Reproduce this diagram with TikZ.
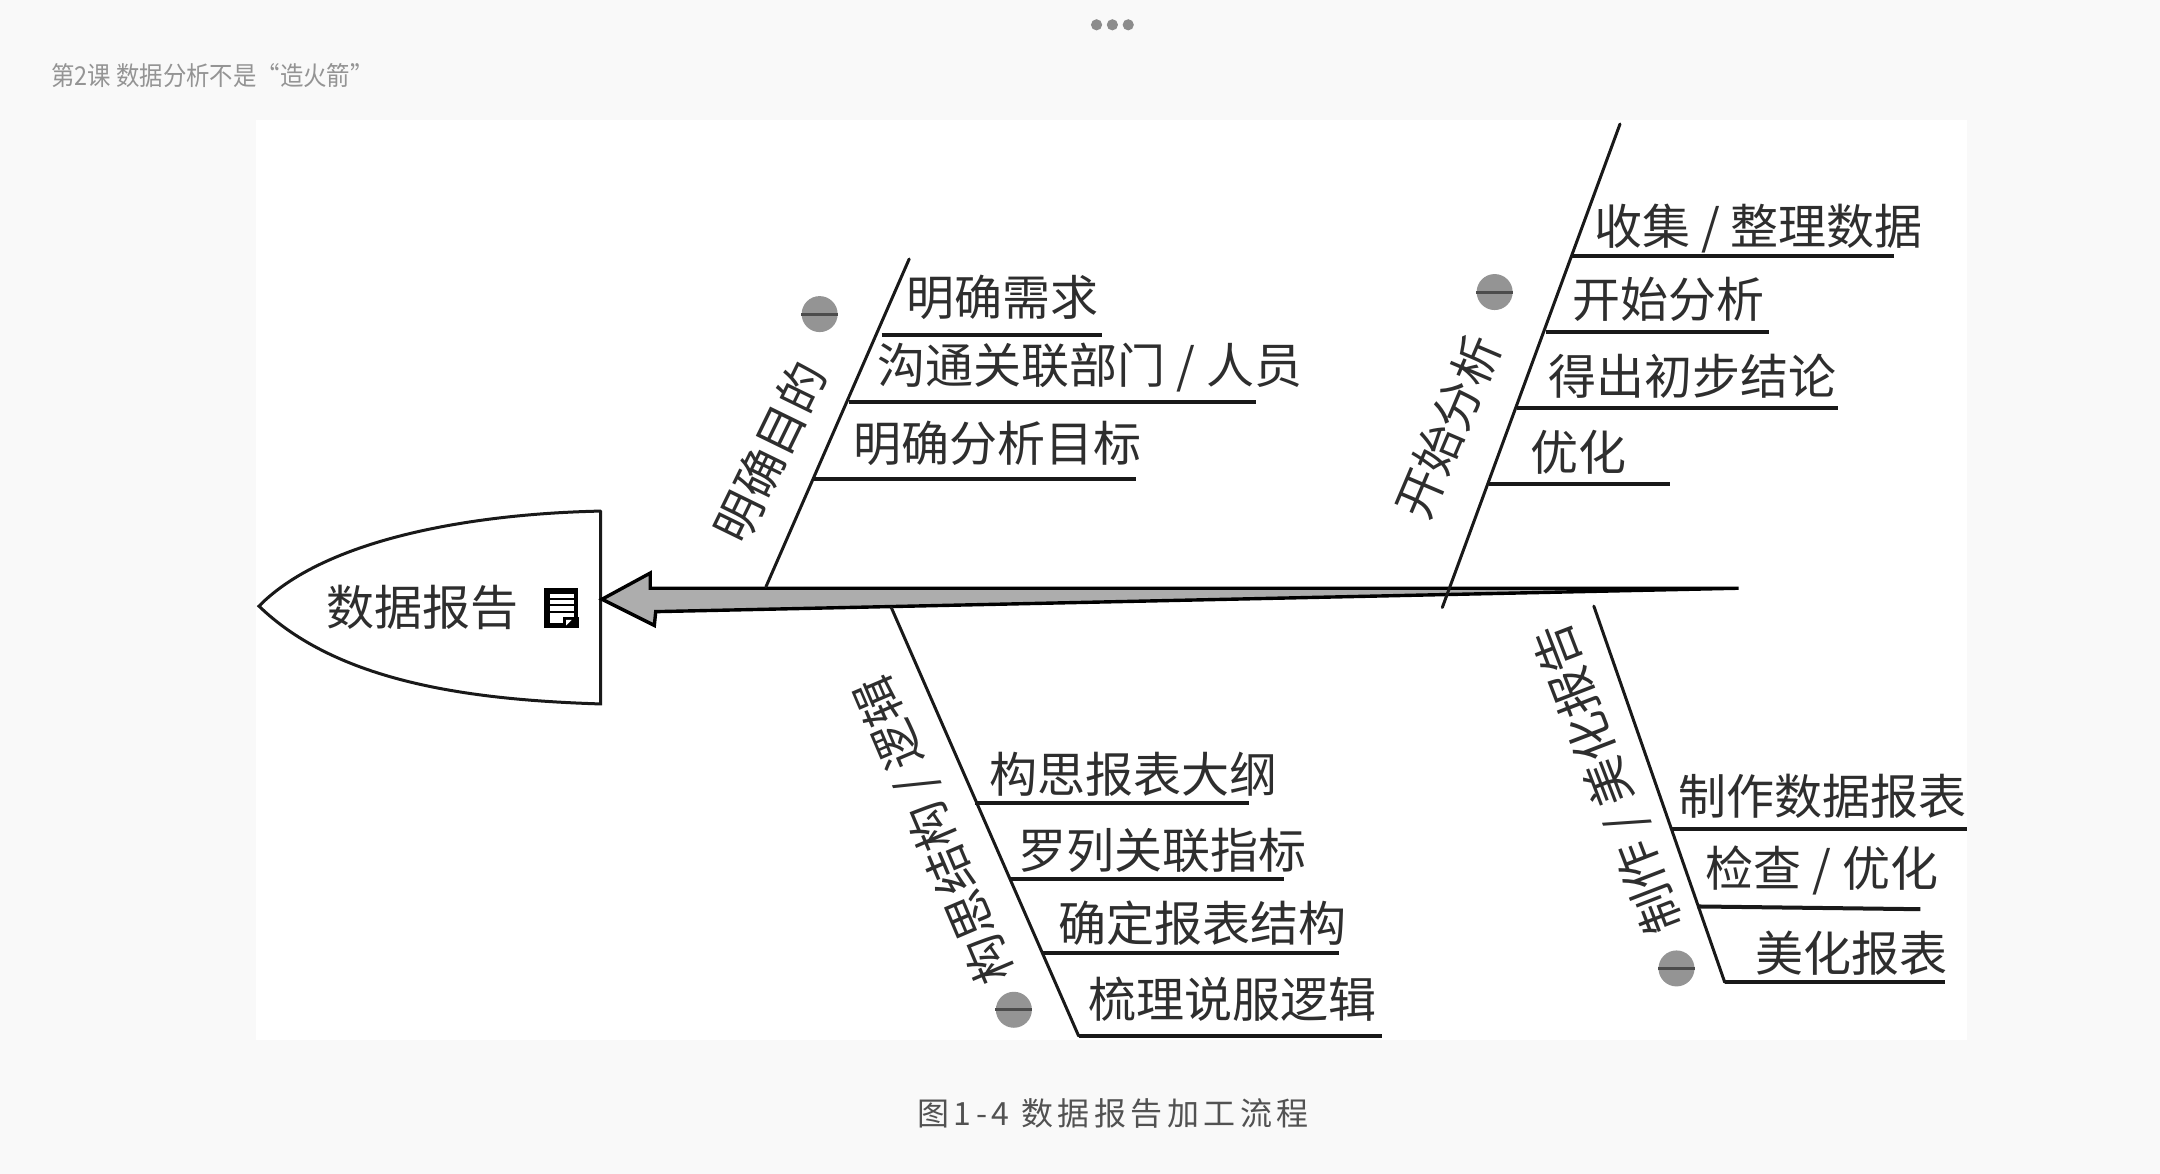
\documentclass[tikz,border=0pt]{standalone}
\usepackage{fontspec}
\setmainfont{Noto Sans CJK SC}
\newfontfamily\capfont[LetterSpace=14]{Noto Sans CJK SC}
\usetikzlibrary{positioning,calc}
\definecolor{pagegray}{HTML}{F9F9F9}
\definecolor{inkgray}{HTML}{2E2E2E}
\tikzset{%
  bone/.style     = { draw = black!90, line width = 1.5pt, line cap = round },
  rib/.style      = { draw = black!90, line width = 2pt },
  ribtext/.style  = { anchor = west, inner sep = 0pt, text = inkgray, font = \fontsize{24}{24}\selectfont },
  bonetext/.style = { inner sep = 0pt, text = inkgray, font = \fontsize{24}{24}\selectfont },
  grayball/.style = { circle, fill = black!42, minimum size = 18pt, inner sep = 0pt },
  ballbar/.style  = { draw = black!70, line width = 1.5pt }
}

\begin{document}
\begin{tikzpicture}[x=0.68878pt,y=-0.68878pt]
  \useasboundingbox (0,0) rectangle (1568,852.2);
  \fill[pagegray] (0,0) rectangle (1568,852.2);
  \fill[white] (186,87) rectangle (1428,755);
  % page header
  \foreach \px/\name in {796/p1,807.5/p2,819/p3}
    \node(\name)[circle, fill=black!45, minimum size=5.6pt, inner sep=0pt] at (\px,18) {};
  \node(head)[anchor=west, inner sep=0pt, xscale=0.9, text=black!42, font=\fontsize{13}{13}\selectfont] at (37,55) {第2课 数据分析不是“造火箭”};
  \node(cap)[inner sep=0pt, text=black!68, font=\capfont\fontsize{16}{16}\selectfont] at (808,808) {图1-4 数据报告加工流程};
  % fish head
  \coordinate(ht) at (436,371);
  \coordinate(hb) at (436,511);
  \coordinate(hl) at (188,440);
  \draw[bone] (ht) -- (hb) .. controls (340,508) and (245,495) .. (hl) .. controls (235,392) and (340,373) .. (ht);
  \node(title)[bonetext] at (307,441) {数据报告};
  \node(doc)[fill=black, minimum width=17pt, minimum height=20pt, inner sep=0pt] at (407.5,441) {};
  \fill[white] (399,431) rectangle (417,452);
  \foreach \ly in {435,439.5,444} \draw[black, line width=1pt] (399,\ly) -- (417,\ly);
  \fill[black] (409,448) rectangle (420,456);
  \fill[white] (411,450) -- (415,450) -- (411,454) -- cycle;
  % main spine
  \coordinate(st) at (437,435);
  \coordinate(sa) at (472,416);
  \coordinate(sb) at (472,427);
  \coordinate(se) at (1262,427);
  \coordinate(sc) at (476,444);
  \coordinate(sd) at (475,454);
  \draw[fill=black!32, line width=1.7pt, line join=miter] (st) -- (sa) -- (sb) -- (se) -- (sc) -- (sd) -- cycle;
  % top left bone
  \coordinate(a0) at (660,188);
  \coordinate(a5) at (556,426);
  \draw[bone] (a0) -- (a5);
  \coordinate(a1) at (640,243);
  \coordinate(a2) at (616,292);
  \coordinate(a3) at (591,348);
  \coordinate(a1e) at (800,243);
  \coordinate(a2e) at (912,292);
  \coordinate(a3e) at (825,348);
  \draw[rib] (a1) -- (a1e);
  \draw[rib] (a2) -- (a2e);
  \draw[rib] (a3) -- (a3e);
  \node(ta1)[ribtext] at (658,216) {明确需求};
  \node(ta2)[ribtext] at (637,267) {沟通关联部门 / 人员};
  \node(ta3)[ribtext] at (619,322) {明确分析目标};
  \node(ta)[bonetext, rotate=64] at (559,328) {明确目的};
  \node(ba)[grayball] at (595,228) {};
  \draw[ballbar] (ba.west) -- (ba.east);
  % top right bone
  \coordinate(b0) at (1176,90);
  \coordinate(b5) at (1047,441);
  \draw[bone] (b0) -- (b5);
  \coordinate(b1) at (1141,186);
  \coordinate(b2) at (1122,241);
  \coordinate(b3) at (1101,296);
  \coordinate(b4) at (1081,351);
  \coordinate(b1e) at (1375,186);
  \coordinate(b2e) at (1284,241);
  \coordinate(b3e) at (1334,296);
  \coordinate(b4e) at (1212,351);
  \draw[rib] (b1) -- (b1e);
  \draw[rib] (b2) -- (b2e);
  \draw[rib] (b3) -- (b3e);
  \draw[rib] (b4) -- (b4e);
  \node(tb1)[ribtext] at (1157,166) {收集 / 整理数据};
  \node(tb2)[ribtext] at (1141,217) {开始分析};
  \node(tb3)[ribtext] at (1124,273) {得出初步结论};
  \node(tb4)[ribtext] at (1111,328) {优化};
  \node(tb)[bonetext, rotate=67] at (1051,310) {开始分析};
  \node(bb)[grayball] at (1085,212) {};
  \draw[ballbar] (bb.west) -- (bb.east);
  % bottom left bone
  \coordinate(c0) at (647,441);
  \coordinate(c4) at (783,752);
  \draw[bone] (c0) -- (c4);
  \coordinate(c1) at (708,583);
  \coordinate(c2) at (733,638);
  \coordinate(c3) at (757,692);
  \coordinate(c1e) at (907,583);
  \coordinate(c2e) at (932,638);
  \coordinate(c3e) at (972,692);
  \coordinate(c4e) at (1003,752);
  \draw[rib] (c1) -- (c1e);
  \draw[rib] (c2) -- (c2e);
  \draw[rib] (c3) -- (c3e);
  \draw[rib] (c4) -- (c4e);
  \node(tc1)[ribtext] at (718,562) {构思报表大纲};
  \node(tc2)[ribtext] at (739,617) {罗列关联指标};
  \node(tc3)[ribtext] at (768,670) {确定报表结构};
  \node(tc4)[ribtext] at (790,725) {梳理说服逻辑};
  \node(tc)[bonetext, rotate=113] at (679,602) {构思结构 / 逻辑};
  \node(bc)[grayball] at (736,733) {};
  \draw[ballbar] (bc.west) -- (bc.east);
  % bottom right bone
  \coordinate(d0) at (1157,440);
  \coordinate(d3) at (1252,713);
  \draw[bone] (d0) -- (d3);
  \coordinate(d1) at (1214,602);
  \coordinate(d2) at (1232,658);
  \coordinate(d1e) at (1428,602);
  \coordinate(d2e) at (1394,660);
  \coordinate(d3e) at (1412,713);
  \draw[rib] (d1) -- (d1e);
  \draw[rib] (d2) -- (d2e);
  \draw[rib] (d3) -- (d3e);
  \node(td1)[ribtext] at (1218,578) {制作数据报表};
  \node(td2)[ribtext] at (1238,632) {检查 / 优化};
  \node(td3)[ribtext] at (1274,692) {美化报表};
  \node(td)[bonetext, rotate=111] at (1168,565) {制作 / 美化报告};
  \node(bd)[grayball] at (1217,703) {};
  \draw[ballbar] (bd.west) -- (bd.east);
\end{tikzpicture}
\end{document}
